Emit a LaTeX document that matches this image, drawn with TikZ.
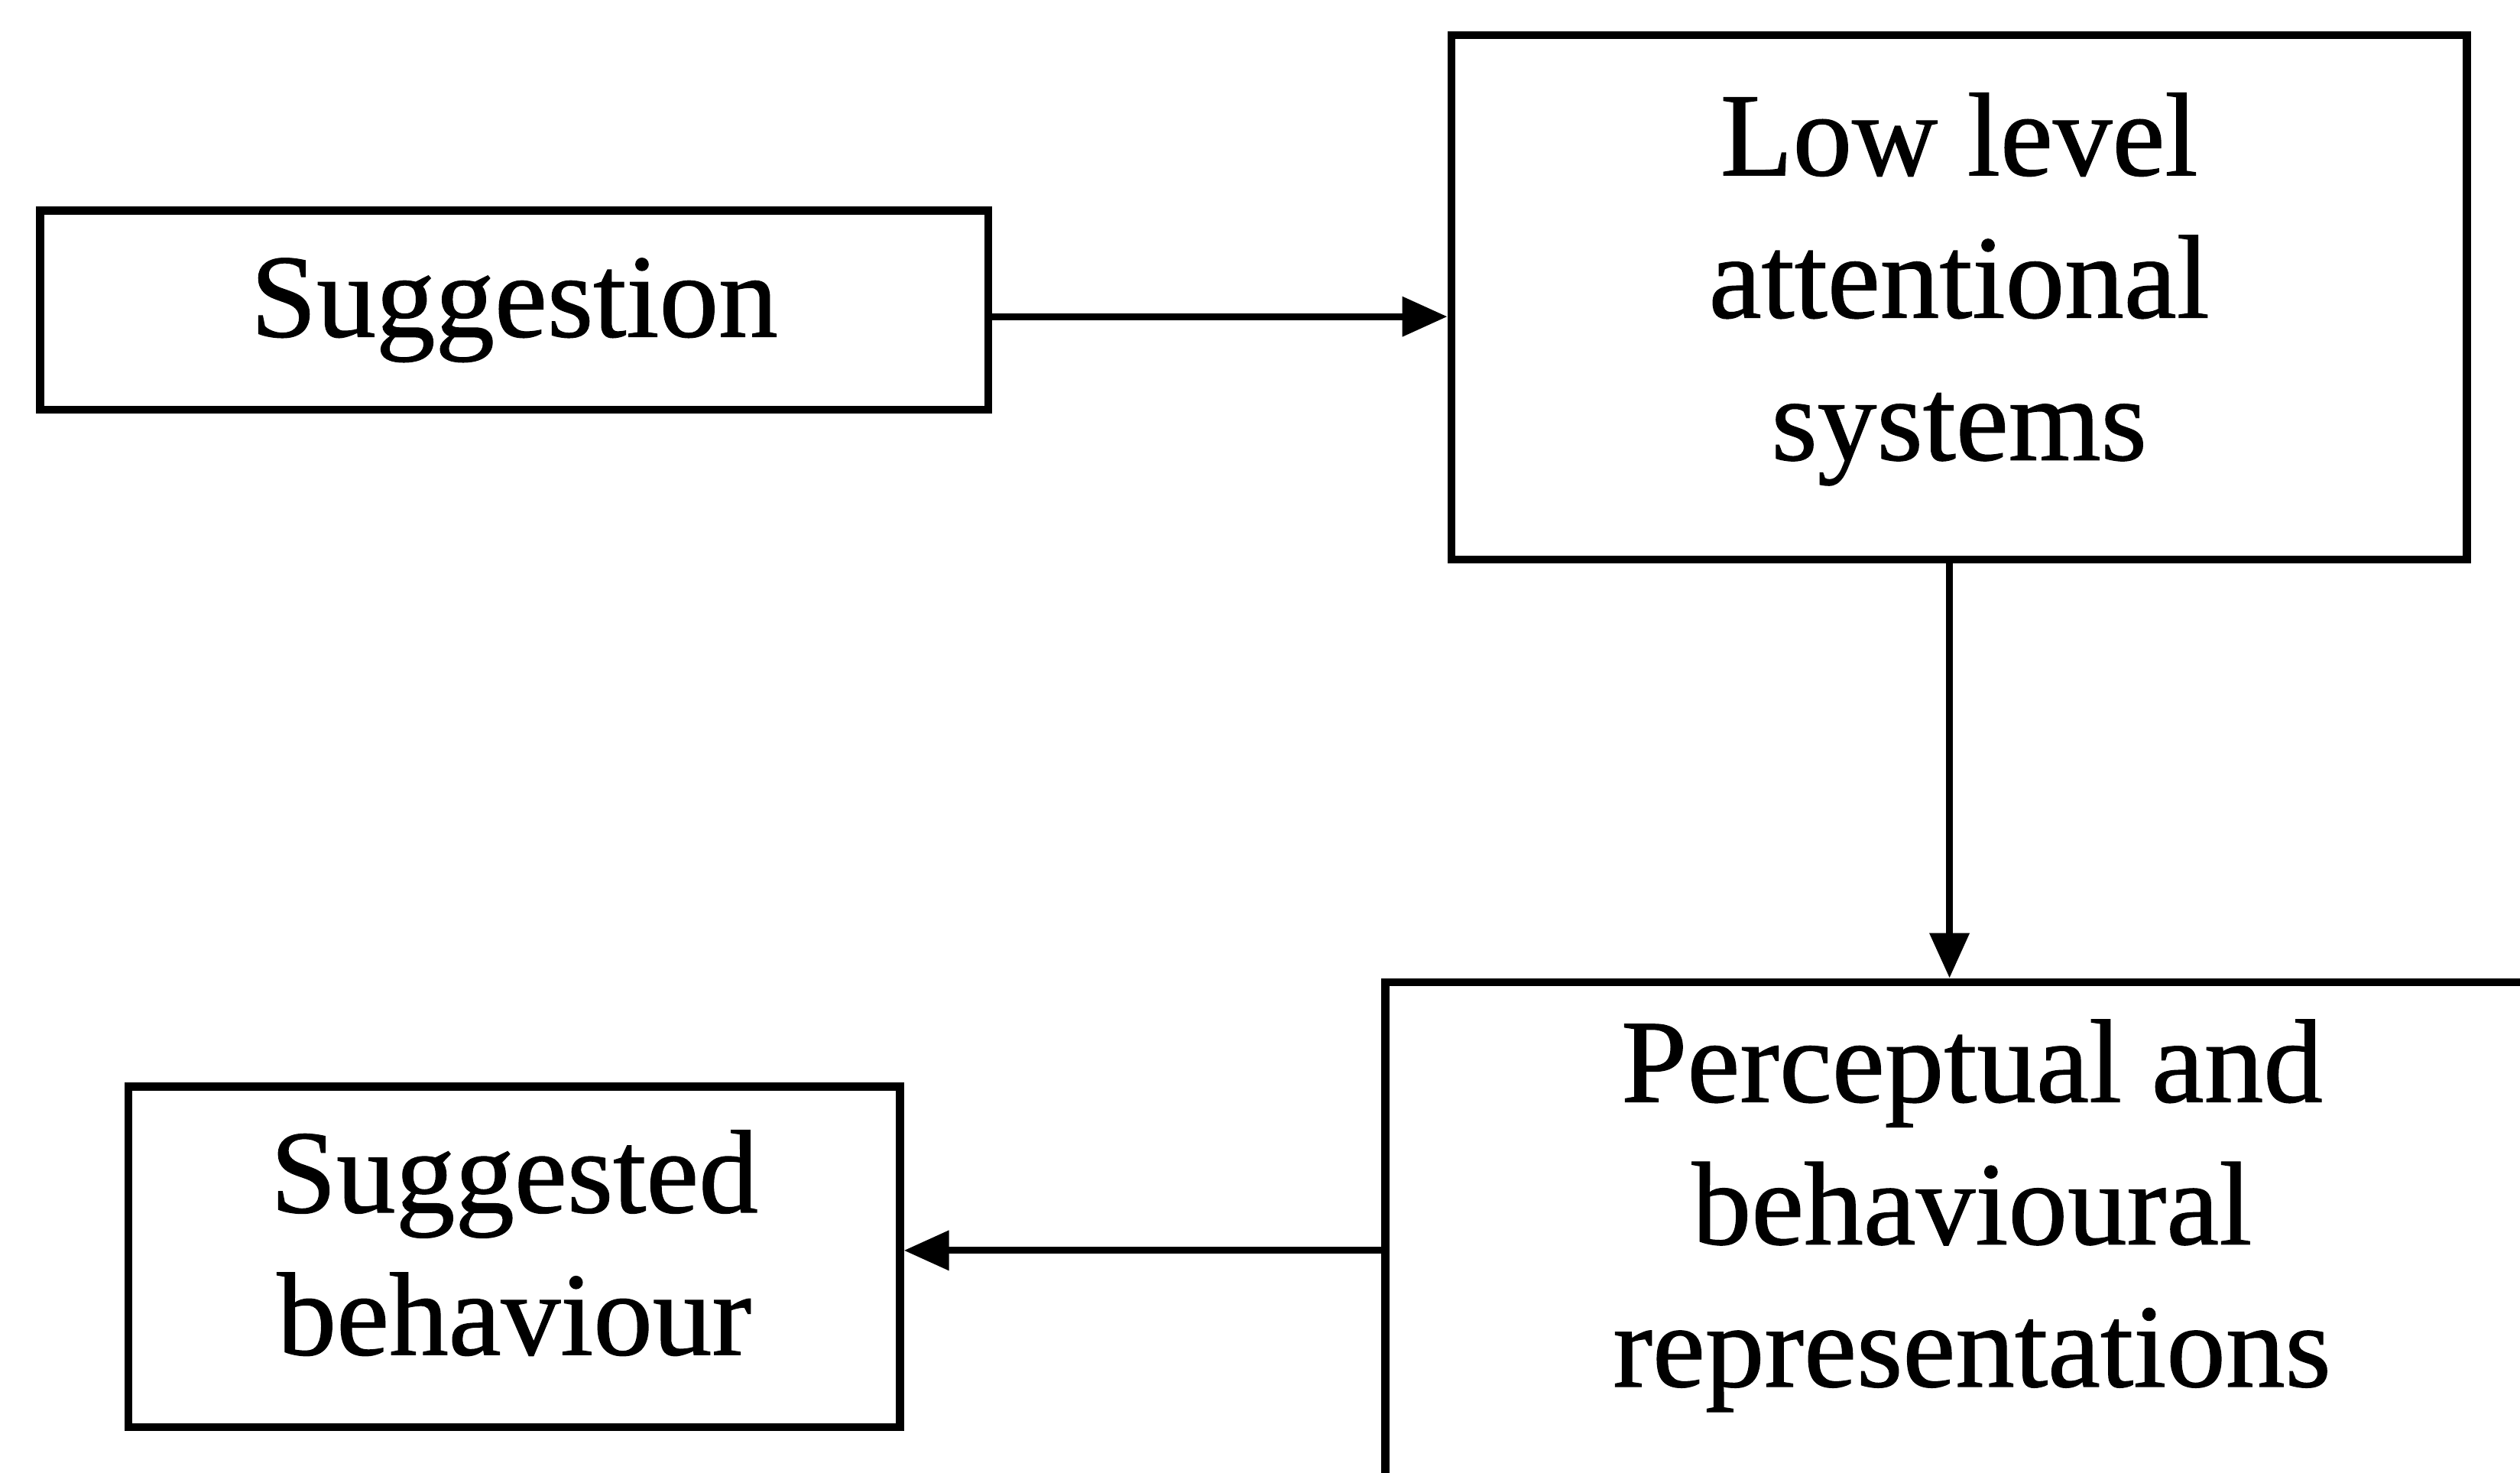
\documentclass[tikz,border=0pt]{standalone}
\usepackage{fontspec}
\setmainfont{Liberation Serif}
\newfontfamily\boxfont{Liberation Serif}[FakeBold=0.8]
\usetikzlibrary{arrows.meta}
\tikzset{block/.style={draw,line width=1.4pt,align=center,inner sep=0pt,
  font=\boxfont\fontsize{21}{25.2}\selectfont},
  link/.style={-{Triangle[length=2.8mm,width=2.4mm]},line width=1.2pt}}

\begin{document}
\begin{tikzpicture}
\useasboundingbox (0,0) rectangle (15.68,9.16);
\clip (0,0) rectangle (15.68,9.16);
\node[block,minimum width=5.9cm,minimum height=1.24cm] (sug) at (3.20,7.23) {Suggestion};
\node[block,minimum width=6.32cm,minimum height=3.26cm,text depth=0.26cm] (low) at (12.19,7.31) {Low level\\attentional\\systems};
\node[block,minimum width=7.3cm,minimum height=3.25cm,text depth=0.5cm] (perc) at (12.27,1.425) {Perceptual and\\behavioural\\representations};
\node[block,minimum width=4.8cm,minimum height=2.12cm,text depth=0.18cm] (beh) at (3.20,1.34) {Suggested\\behaviour};
\draw[link] ([yshift=-0.04cm]sug.east)--([yshift=-0.04cm]sug.east -| low.west);
\draw[link] ([xshift=-0.06cm]low.south)--([xshift=-0.06cm]low.south |- perc.north);
\draw[link] ([yshift=0.04cm]beh.east -| perc.west)--([yshift=0.04cm]beh.east);
\end{tikzpicture}
\end{document}
